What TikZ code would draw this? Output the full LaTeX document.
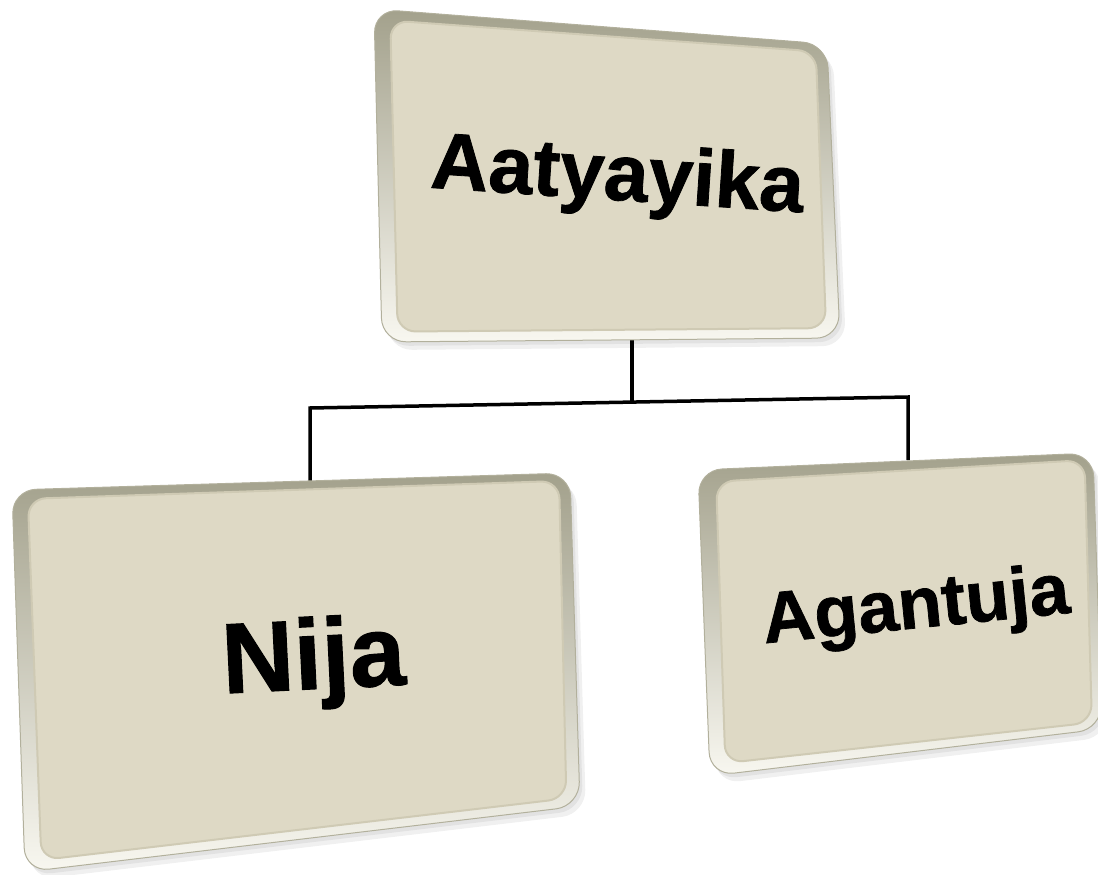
\documentclass[tikz,border=0pt]{standalone}
\usepackage{fontspec}
\newfontfamily\boxfont{Liberation Sans Bold}[FakeBold=1]
\usetikzlibrary{calc}

\definecolor{faceCol}{HTML}{DED9C5}
\definecolor{rimCol}{HTML}{CFCAB4}
\definecolor{bevelDark}{HTML}{A3A18C}
\definecolor{bevelLight}{HTML}{F8F7F0}
\definecolor{edgeCol}{HTML}{B2B09C}

\tikzset{
    bevel/.style={top color=bevelDark, bottom color=bevelLight, draw=edgeCol, line width=1pt, rounded corners=24pt},
    face/.style={fill=faceCol, draw=rimCol, line width=2pt, rounded corners=18pt},
    dropshade/.style={fill=black, opacity=0.06, rounded corners=24pt},
    link/.style={draw=black, line width=3.5pt},
    boxtext/.style={anchor=base, inner sep=0pt, font=\boxfont}
}

\begin{document}
\begin{tikzpicture}[x=1pt, y=-1pt]
    \useasboundingbox (0,0) rectangle (1098,875);

    % Define corners of the three boxes
    \coordinate (tA) at (374,9);    \coordinate (tB) at (827,44);
    \coordinate (tC) at (840,338);  \coordinate (tD) at (382,342);
    \coordinate (lA) at (12,490);   \coordinate (lB) at (570,473);
    \coordinate (lC) at (580,806);  \coordinate (lD) at (25,872);
    \coordinate (rA) at (698,470);  \coordinate (rB) at (1093,453);
    \coordinate (rC) at (1102,729); \coordinate (rD) at (710,776);

    % Connector points
    \coordinate (topfoot) at (632,336);
    \coordinate (junc) at (632,402);
    \coordinate (lbend) at (310,408);
    \coordinate (rbend) at (908,397);
    \coordinate (nijahead) at (310,482);
    \coordinate (aganhead) at (908,460);

    % Draw the tree lines
    \draw[link] (topfoot) -- (junc);
    \draw[link, line join=miter] (nijahead) -- (lbend) -- (rbend) -- (aganhead);

    % Draw soft shadows under the boxes
    \foreach \b in {t,l,r} {
        \fill[dropshade] ($(\b A)+(6,8)$) -- ($(\b B)+(6,8)$) -- ($(\b C)+(6,8)$) -- ($(\b D)+(6,8)$) -- cycle;
        \fill[dropshade] ($(\b A)+(3,4)$) -- ($(\b B)+(3,4)$) -- ($(\b C)+(3,4)$) -- ($(\b D)+(3,4)$) -- cycle;
    }

    % Draw bevelled rims
    \path[bevel] (tA) -- (tB) -- (tC) -- (tD) -- cycle;
    \path[bevel] (lA) -- (lB) -- (lC) -- (lD) -- cycle;
    \path[bevel] (rA) -- (rB) -- (rC) -- (rD) -- cycle;

    % Draw flat faces, inset toward the opposite corner
    \path[face] ($(tA)!0.035!(tC)$) -- ($(tB)!0.025!(tD)$) -- ($(tC)!0.03!(tA)$) -- ($(tD)!0.035!(tB)$) -- cycle;
    \path[face] ($(lA)!0.028!(lC)$) -- ($(lB)!0.02!(lD)$) -- ($(lC)!0.024!(lA)$) -- ($(lD)!0.03!(lB)$) -- cycle;
    \path[face] ($(rA)!0.045!(rC)$) -- ($(rB)!0.022!(rD)$) -- ($(rC)!0.025!(rA)$) -- ($(rD)!0.04!(rB)$) -- cycle;

    % Label the boxes
    \node[boxtext, rotate=-3.8] (aatyayika) at (616,200)
        {\fontsize{80}{86}\selectfont Aatyayika};
    \node[boxtext, rotate=2.8] (nija) at (315,689)
        {\fontsize{100}{106}\selectfont Nija};
    \node[boxtext, rotate=5.7] (agantuja) at (918,628)
        {\fontsize{72}{78}\selectfont Agantuja};

\end{tikzpicture}
\end{document}
